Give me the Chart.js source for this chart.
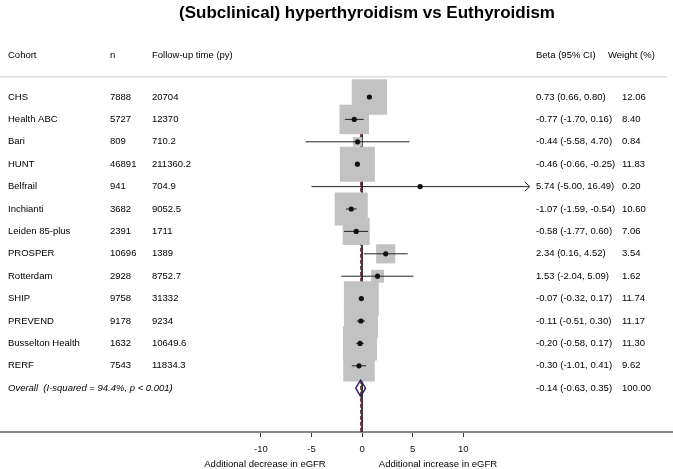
<!DOCTYPE html>
<html>
<head>
<meta charset="utf-8">
<script src="https://cdn.jsdelivr.net/npm/chart.js@4/dist/chart.umd.min.js"></script>
<style>
  body { margin: 0; background: #fff; }
  canvas { display: block; }
</style>
</head>
<body>
<canvas id="forest" width="673" height="469"></canvas>
<script>
// data
const cohorts = ['CHS', 'Health ABC', 'Bari', 'HUNT', 'Belfrail', 'Inchianti', 'Leiden 85-plus',
  'PROSPER', 'Rotterdam', 'SHIP', 'PREVEND', 'Busselton Health', 'RERF'];
const nPart = ['7888', '5727', '809', '46891', '941', '3682', '2391', '10696', '2928', '9758', '9178', '1632', '7543'];
const followUp = ['20704', '12370', '710.2', '211360.2', '704.9', '9052.5', '1711', '1389', '8752.7',
  '31332', '9234', '10649.6', '11834.3'];
const beta = [0.73, -0.77, -0.44, -0.46, 5.74, -1.07, -0.58, 2.34, 1.53, -0.07, -0.11, -0.20, -0.30];
const ciLow = [0.66, -1.70, -5.58, -0.66, -5.00, -1.59, -1.77, 0.16, -2.04, -0.32, -0.51, -0.58, -1.01];
const ciHigh = [0.80, 0.16, 4.70, -0.25, 16.49, -0.54, 0.60, 4.52, 5.09, 0.17, 0.30, 0.17, 0.41];
const weight = [12.06, 8.40, 0.84, 11.83, 0.20, 10.60, 7.06, 3.54, 1.62, 11.74, 11.17, 11.30, 9.62];
const overall = [-0.14, -0.63, 0.35];   // estimate, lower, upper
const overallLabel = 'Overall  (I-squared = 94.4%, p < 0.001)';
const xTicks = [-10, -5, 0, 5, 10];
const arrowRows = [4];  // CI truncated with an arrow (Belfrail)

const overallRow = cohorts.length;
const fmt = v => v.toFixed(2);

// box side grows with sqrt(weight); Chart.js 'rect' side = radius * sqrt(2)
const boxRadius = weight.map(w => 10.17 * Math.sqrt(w) / Math.SQRT2);

const ciData = [];
cohorts.forEach((c, i) => {
  ciData.push({ x: ciLow[i], y: i }, { x: ciHigh[i], y: i }, { x: ciHigh[i], y: null });
});

const diamond = [
  { x: overall[1], y: overallRow }, { x: overall[0], y: overallRow - 0.36 },
  { x: overall[2], y: overallRow }, { x: overall[0], y: overallRow + 0.36 },
  { x: overall[1], y: overallRow }
];

const font = 'Liberation Sans, Arial, sans-serif';

const tablePlugin = {
  id: 'table',
  afterDraw(chart) {
    const { ctx } = chart;
    const y = chart.scales.y;
    const x = chart.scales.x;
    ctx.save();
    ctx.fillStyle = '#000';
    ctx.textBaseline = 'middle';

    ctx.font = 'bold 17px ' + font;
    ctx.textAlign = 'center';
    ctx.fillText('(Subclinical) hyperthyroidism vs Euthyroidism', 367, 13);

    ctx.font = '9.5px ' + font;
    ctx.textAlign = 'left';
    const hy = y.getPixelForValue(-1.875);
    ctx.fillText('Cohort', 8, hy);
    ctx.fillText('n', 110, hy);
    ctx.fillText('Follow-up time (py)', 152, hy);
    ctx.fillText('Beta (95% CI)', 536, hy);
    ctx.fillText('Weight (%)', 608, hy);

    ctx.strokeStyle = '#dcdcdc';
    ctx.lineWidth = 1.5;
    ctx.beginPath();
    ctx.moveTo(0, y.getPixelForValue(-0.9));
    ctx.lineTo(667, y.getPixelForValue(-0.9));
    ctx.stroke();

    cohorts.forEach((c, i) => {
      const py = y.getPixelForValue(i);
      ctx.fillText(c, 8, py);
      ctx.fillText(nPart[i], 110, py);
      ctx.fillText(followUp[i], 152, py);
      ctx.fillText(fmt(beta[i]) + ' (' + fmt(ciLow[i]) + ', ' + fmt(ciHigh[i]) + ')', 536, py);
      ctx.fillText(fmt(weight[i]), 622, py);
    });
    const oy = y.getPixelForValue(overallRow);
    ctx.fillText(fmt(overall[0]) + ' (' + fmt(overall[1]) + ', ' + fmt(overall[2]) + ')', 536, oy);
    ctx.fillText('100.00', 622, oy);
    ctx.font = 'italic 9.5px ' + font;
    ctx.fillText(overallLabel, 8, oy);

    // arrow heads for truncated CIs
    ctx.strokeStyle = '#222';
    ctx.lineWidth = 1;
    arrowRows.forEach(i => {
      const ax = x.getPixelForValue(ciHigh[i]) + 1;
      const ay = y.getPixelForValue(i);
      ctx.beginPath();
      ctx.moveTo(ax - 5, ay - 4.5);
      ctx.lineTo(ax, ay);
      ctx.lineTo(ax - 5, ay + 4.5);
      ctx.stroke();
    });

    ctx.font = '9.5px ' + font;
    ctx.textAlign = 'center';
    ctx.fillText('Additional decrease in eGFR', 265, 464);
    ctx.fillText('Additional increase in eGFR', 438, 464);
    ctx.restore();
  }
};

const ctx = document.getElementById('forest').getContext('2d');
const forest = new Chart(ctx, {
  type: 'scatter',
  data: {
    datasets: [
      {
        // point estimates
        data: beta.map((b, i) => ({ x: b, y: i })),
        pointStyle: 'circle',
        pointRadius: 2.6,
        backgroundColor: '#111',
        borderWidth: 0
      },
      {
        // confidence intervals
        data: ciData,
        showLine: true,
        spanGaps: false,
        borderColor: '#222',
        borderWidth: 1,
        pointRadius: 0
      },
      {
        // overall diamond
        data: diamond,
        showLine: true,
        borderColor: '#2b2468',
        borderWidth: 1.5,
        pointRadius: 0
      },
      {
        // weight boxes
        data: beta.map((b, i) => ({ x: b, y: i })),
        pointStyle: 'rect',
        pointRadius: boxRadius,
        backgroundColor: '#c2c2c2',
        borderWidth: 0
      },
      {
        // overall estimate line
        data: [{ x: overall[0], y: -0.5 }, { x: overall[0], y: 14.96 }],
        showLine: true,
        borderColor: '#7a2030',
        borderWidth: 1,
        borderDash: [4, 2],
        pointRadius: 0
      },
      {
        // null line
        data: [{ x: 0, y: -0.5 }, { x: 0, y: 14.96 }],
        showLine: true,
        borderColor: '#222',
        borderWidth: 1,
        pointRadius: 0
      }
    ]
  },
  options: {
    responsive: false,
    animation: false,
    events: [],
    layout: { padding: 0, autoPadding: false },
    plugins: { legend: { display: false }, tooltip: { enabled: false }, title: { display: false } },
    scales: {
      x: {
        type: 'linear',
        min: -35.79,
        max: 30.74,
        afterBuildTicks: s => { s.ticks = xTicks.map(v => ({ value: v })); },
        afterFit: s => { s.height = 37; },
        ticks: { color: '#111', font: { family: font, size: 9.5 }, padding: 7, autoSkip: false, maxRotation: 0 },
        grid: { drawOnChartArea: false, drawTicks: true, tickLength: 5, tickColor: '#333', tickWidth: 1 },
        border: { display: true, color: '#8a8a8a', width: 2 }
      },
      y: {
        type: 'linear',
        display: false,
        reverse: true,
        min: -4.33,
        max: 14.955
      }
    }
  },
  plugins: [tablePlugin]
});
</script>
</body>
</html>
